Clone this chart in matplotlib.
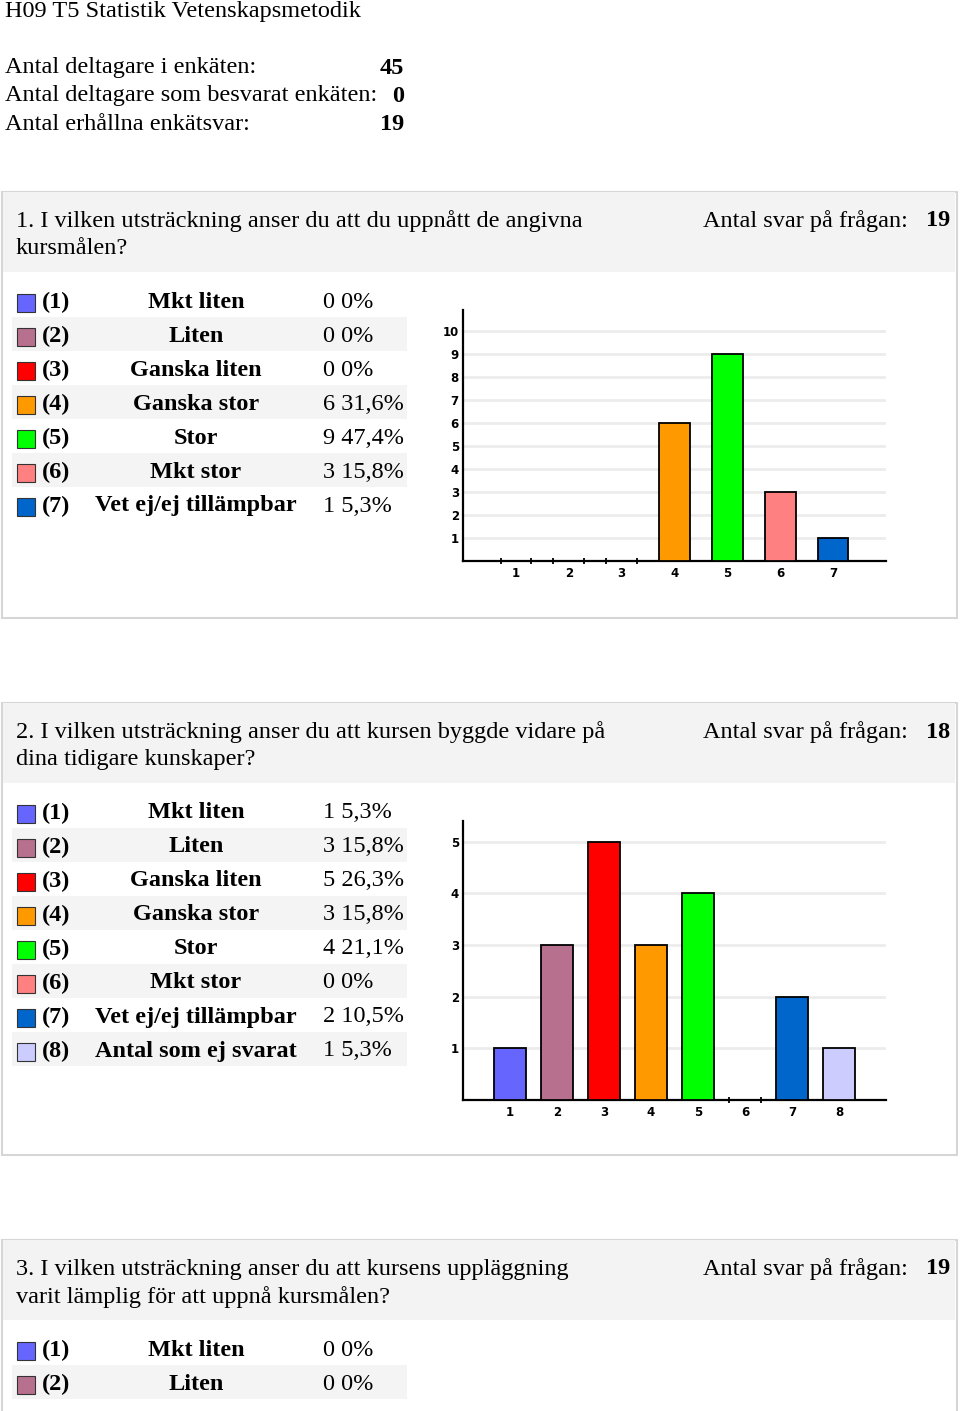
import matplotlib.pyplot as plt
from matplotlib.patches import Rectangle

plt.rcParams['font.family'] = ['Liberation Serif', 'DejaVu Serif']

W, H = 960, 1411

# survey header
title = "H09 T5 Statistik Vetenskapsmetodik"
summary_labels = ["Antal deltagare i enkäten:",
                  "Antal deltagare som besvarat enkäten:",
                  "Antal erhållna enkätsvar:"]
summary_values = ["45", "0", "19"]

# answer categories and colours
option_colors = ["#6666ff", "#b8708f", "#ff0000", "#ff9900",
                 "#00ff00", "#ff8080", "#0066cc", "#ccccff"]
option_labels = ["Mkt liten", "Liten", "Ganska liten", "Ganska stor",
                 "Stor", "Mkt stor", "Vet ej/ej tillämpbar", "Antal som ej svarat"]

# question 1
q1_text = ["1. I vilken utsträckning anser du att du uppnått de angivna",
           "kursmålen?"]
q1_answers = "19"
q1_counts = [0, 0, 0, 6, 9, 3, 1]
q1_pcts = ["0%", "0%", "0%", "31,6%", "47,4%", "15,8%", "5,3%"]

# question 2
q2_text = ["2. I vilken utsträckning anser du att kursen byggde vidare på",
           "dina tidigare kunskaper?"]
q2_answers = "18"
q2_counts = [1, 3, 5, 3, 4, 0, 2, 1]
q2_pcts = ["5,3%", "15,8%", "26,3%", "15,8%", "21,1%", "0%", "10,5%", "5,3%"]

# question 3 (cut off at the bottom)
q3_text = ["3. I vilken utsträckning anser du att kursens uppläggning",
           "varit lämplig för att uppnå kursmålen?"]
q3_answers = "19"
q3_counts = [0, 0]
q3_pcts = ["0%", "0%"]

fig = plt.figure(figsize=(W / 100, H / 100), dpi=100)
bg = fig.add_axes([0, 0, 1, 1])
bg.set_xlim(0, W)
bg.set_ylim(H, 0)
bg.axis('off')

FS = 17.5


def px_axes(x0, y0, x1, y1):
    return fig.add_axes([x0 / W, 1 - y1 / H, (x1 - x0) / W, (y1 - y0) / H])


bg.text(5, 12, title, fontsize=FS, va='center', ha='left')
for i, (lab, val) in enumerate(zip(summary_labels, summary_values)):
    y = 68 + 28 * i
    bg.text(5, y, lab, fontsize=FS, va='center')
    bg.text(404, y, val, fontsize=FS, va='center', ha='right', fontweight='bold')


def section(top, bottom, qtext, answers, counts, pcts, ymax=None, chart_h=0):
    # frame and header band
    bg.add_patch(Rectangle((2, top), 955, bottom - top, facecolor='white',
                           edgecolor='#d6d6d6', lw=1.5, zorder=0))
    bg.add_patch(Rectangle((3, top), 952, 80, facecolor='#f3f3f3',
                           edgecolor='none', zorder=1))
    for j, line in enumerate(qtext):
        bg.text(16, top + 29 + 28 * j, line, fontsize=FS, va='center', zorder=3)
    bg.text(703, top + 29, "Antal svar på frågan:", fontsize=FS, va='center', zorder=3)
    bg.text(950, top + 29, answers, fontsize=FS, va='center', ha='right',
            fontweight='bold', zorder=3)

    # legend table
    for i, (c, p) in enumerate(zip(counts, pcts)):
        y = top + 110 + 34 * i
        if y > H:
            break
        if i % 2 == 1:
            bg.add_patch(Rectangle((12, y - 19), 395, 34, facecolor='#f4f4f4',
                                   edgecolor='none', zorder=1))
        bg.add_patch(Rectangle((17, y - 8), 18, 18, facecolor=option_colors[i],
                               edgecolor='#333333', lw=0.8, zorder=2))
        bg.text(42, y, f"({i + 1})", fontsize=FS, va='center', fontweight='bold', zorder=3)
        bg.text(196, y, option_labels[i], fontsize=FS, va='center', ha='center',
                fontweight='bold', zorder=3)
        bg.text(323, y, f"{c} {p}", fontsize=FS, va='center', zorder=3)

    if ymax is None:
        return
    # bar chart
    n = len(counts)
    ax = px_axes(463, top + 118, 886, top + 118 + chart_h)
    xs = list(range(1, n + 1))
    width = 0.58 if n == 7 else 0.66
    ax.bar(xs, counts, width=width, color=option_colors[:n], edgecolor='black',
           linewidth=1.3, zorder=3)
    ax.set_xlim(0, n + 1)
    ax.set_ylim(0, ymax)
    ax.set_xticks(xs)
    ax.set_xticklabels([str(x) for x in xs])
    ax.set_yticks(range(1, int(ymax) + 1))
    ax.yaxis.grid(True, color='#ececec', lw=2)
    ax.set_axisbelow(True)
    zero_edges = []
    for x, c in zip(xs, counts):
        if c == 0:
            zero_edges += [x - width / 2, x + width / 2]
    ax.set_xticks(zero_edges, minor=True)
    ax.tick_params(axis='x', which='major', length=0, pad=4)
    ax.tick_params(axis='x', which='minor', length=5, direction='inout', width=1.3)
    ax.tick_params(axis='y', length=0, pad=3)
    for lab in ax.get_xticklabels() + ax.get_yticklabels():
        lab.set_fontfamily('DejaVu Sans')
        lab.set_fontweight('bold')
        lab.set_fontsize(8.5)
    for s in ['top', 'right']:
        ax.spines[s].set_visible(False)
    for s in ['left', 'bottom']:
        ax.spines[s].set_linewidth(1.6)
    ax.patch.set_alpha(0)


section(192, 618, q1_text, q1_answers, q1_counts, q1_pcts, ymax=10.9, chart_h=251)
section(703, 1155, q2_text, q2_answers, q2_counts, q2_pcts, ymax=5.4, chart_h=279)
section(1240, 1440, q3_text, q3_answers, q3_counts, q3_pcts)

fig.savefig("out.png", dpi=100)
